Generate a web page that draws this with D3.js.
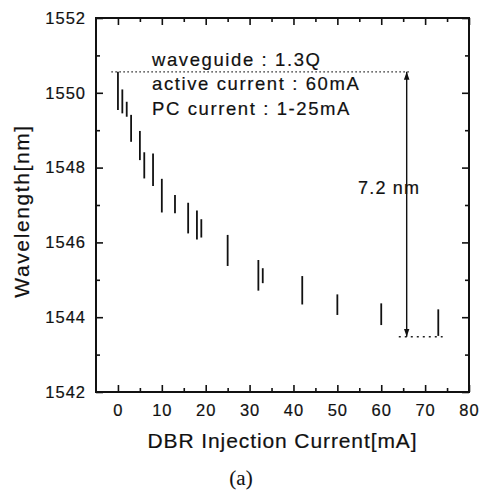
<!DOCTYPE html>
<html>
<head>
<meta charset="utf-8">
<script src="https://cdn.jsdelivr.net/npm/d3@7"></script>
<style>
  body { margin: 0; background: #fff; }
  text { font-family: Arial, "Liberation Sans", sans-serif; fill: #111; stroke: #111; stroke-width: 0.2px; }
</style>
</head>
<body>
<script>
// DBR injection current (mA) for each measured tuning range
var current = [0, 1, 2, 3, 5, 6, 8, 10, 13, 16, 18, 19, 25, 32, 33, 42, 50, 60, 73];
// top and bottom of each vertical wavelength bar (nm)
var wlTop = [1550.56, 1550.09, 1549.76, 1549.41, 1548.98, 1548.41, 1548.38, 1547.70, 1547.27, 1547.06,
             1546.85, 1546.62, 1546.20, 1545.53, 1545.31, 1545.10, 1544.61, 1544.37, 1544.21];
var wlBottom = [1549.54, 1549.45, 1549.36, 1548.69, 1548.20, 1547.71, 1547.51, 1546.80, 1546.78, 1546.24,
                1546.08, 1546.13, 1545.37, 1544.71, 1544.91, 1544.34, 1544.06, 1543.79, 1543.50];

var xTicks = [0, 10, 20, 30, 40, 50, 60, 70, 80];
var yTicks = [1542, 1544, 1546, 1548, 1550, 1552];
var notes = ["waveguide : 1.3Q", "active current : 60mA", "PC current : 1-25mA"];

// the 7.2 nm span marker
var spanTop = 1550.56, spanBottom = 1543.48, spanX = 65.8;
var topGuide = [-1.5, 66.8], bottomGuide = [64, 74];

var width = 481, height = 492;
var margin = {top: 18, right: 12, bottom: 100, left: 96};
var w = width - margin.left - margin.right,
    h = height - margin.top - margin.bottom;

var svg = d3.select("body").append("svg")
    .attr("width", width)
    .attr("height", height);

var g = svg.append("g")
    .attr("transform", "translate(" + margin.left + "," + margin.top + ")");

var x = d3.scaleLinear().domain([-5, 80]).range([0, w]);
var y = d3.scaleLinear().domain([1542, 1552]).range([h, 0]);

// minor ticks first, major ticks with labels on top
function minorAxis(axis, vals) {
  return axis.tickValues(vals).tickSize(-4).tickFormat("");
}
var xMinor = d3.range(5, 80, 10), yMinor = d3.range(1543, 1552, 2);

g.append("g").attr("transform", "translate(0," + h + ")").call(minorAxis(d3.axisBottom(x), xMinor));
g.append("g").call(minorAxis(d3.axisTop(x), xMinor));
g.append("g").call(minorAxis(d3.axisLeft(y), yMinor));
g.append("g").attr("transform", "translate(" + w + ",0)").call(minorAxis(d3.axisRight(y), yMinor));

var xAxis = g.append("g").attr("class", "x axis")
    .attr("transform", "translate(0," + h + ")")
    .call(d3.axisBottom(x).tickValues(xTicks).tickSize(-7).tickPadding(12).tickFormat(d3.format("d")));
g.append("g").call(d3.axisTop(x).tickValues(xTicks).tickSize(-7).tickFormat(""));
var yAxis = g.append("g").attr("class", "y axis")
    .call(d3.axisLeft(y).tickValues(yTicks).tickSize(-7).tickPadding(10).tickFormat(d3.format("d")));
g.append("g").attr("transform", "translate(" + w + ",0)")
    .call(d3.axisRight(y).tickValues(yTicks).tickSize(-7).tickFormat(""));

g.selectAll(".domain").remove();
g.selectAll(".tick line").attr("stroke", "#111").attr("stroke-width", 1.6);
g.selectAll(".tick text")
    .style("font-size", "16.5px")
    .style("letter-spacing", "1px")
    .attr("fill", "#111");

// frame
g.append("rect")
    .attr("width", w)
    .attr("height", h)
    .attr("fill", "none")
    .attr("stroke", "#111")
    .attr("stroke-width", 2);

// wavelength bars
g.selectAll(".bar")
    .data(current)
    .enter().append("line")
    .attr("class", "bar")
    .attr("x1", function(d){ return x(d); })
    .attr("x2", function(d){ return x(d); })
    .attr("y1", function(d, i){ return y(wlTop[i]); })
    .attr("y2", function(d, i){ return y(wlBottom[i]); })
    .attr("stroke", "#111")
    .attr("stroke-width", 1.8);

// dotted guides
g.append("line")
    .attr("x1", x(topGuide[0])).attr("x2", x(topGuide[1]))
    .attr("y1", y(spanTop)).attr("y2", y(spanTop))
    .attr("stroke", "#222").attr("stroke-width", 1.3)
    .attr("stroke-dasharray", "1.5,2.5");
g.append("line")
    .attr("x1", x(bottomGuide[0])).attr("x2", x(bottomGuide[1]))
    .attr("y1", y(spanBottom)).attr("y2", y(spanBottom))
    .attr("stroke", "#222").attr("stroke-width", 1.5)
    .attr("stroke-dasharray", "2,4");

// double headed arrow
var defs = svg.append("defs");
defs.append("marker")
    .attr("id", "head")
    .attr("viewBox", "0 0 10 10")
    .attr("refX", 10).attr("refY", 5)
    .attr("markerWidth", 8).attr("markerHeight", 8)
    .attr("markerUnits", "userSpaceOnUse")
    .attr("orient", "auto-start-reverse")
    .append("path")
    .attr("d", "M0,1.5L10,5L0,8.5Z")
    .attr("fill", "#111");

g.append("line")
    .attr("x1", x(spanX)).attr("x2", x(spanX))
    .attr("y1", y(spanTop)).attr("y2", y(spanBottom))
    .attr("stroke", "#111").attr("stroke-width", 1.4)
    .attr("marker-start", "url(#head)")
    .attr("marker-end", "url(#head)");

g.append("text")
    .attr("x", 358 - margin.left)
    .attr("y", 194 - margin.top)
    .style("font-size", "18px")
    .style("letter-spacing", "1.2px")
    .text("7.2 nm");

// condition notes
g.selectAll(".note")
    .data(notes)
    .enter().append("text")
    .attr("class", "note")
    .attr("x", 152 - margin.left)
    .attr("y", function(d, i){ return 66 - margin.top + i * 24.3; })
    .style("font-size", "18.5px")
    .style("letter-spacing", "1.6px")
    .text(function(d){ return d; });

// axis titles
svg.append("text")
    .attr("x", margin.left + x(37.5))
    .attr("y", 448)
    .attr("text-anchor", "middle")
    .style("font-size", "21px")
    .style("letter-spacing", "0.9px")
    .text("DBR Injection Current[mA]");

svg.append("text")
    .attr("transform", "translate(29," + (margin.top + h / 2 + 6) + ") rotate(-90)")
    .attr("text-anchor", "middle")
    .style("font-size", "21px")
    .style("letter-spacing", "1.6px")
    .text("Wavelength[nm]");

svg.append("text")
    .attr("x", 241)
    .attr("y", 485)
    .attr("text-anchor", "middle")
    .style("font-family", "'Liberation Serif', 'Times New Roman', serif")
    .style("font-size", "21px")
    .style("stroke-width", "0.1px")
    .text("(a)");
</script>
</body>
</html>
